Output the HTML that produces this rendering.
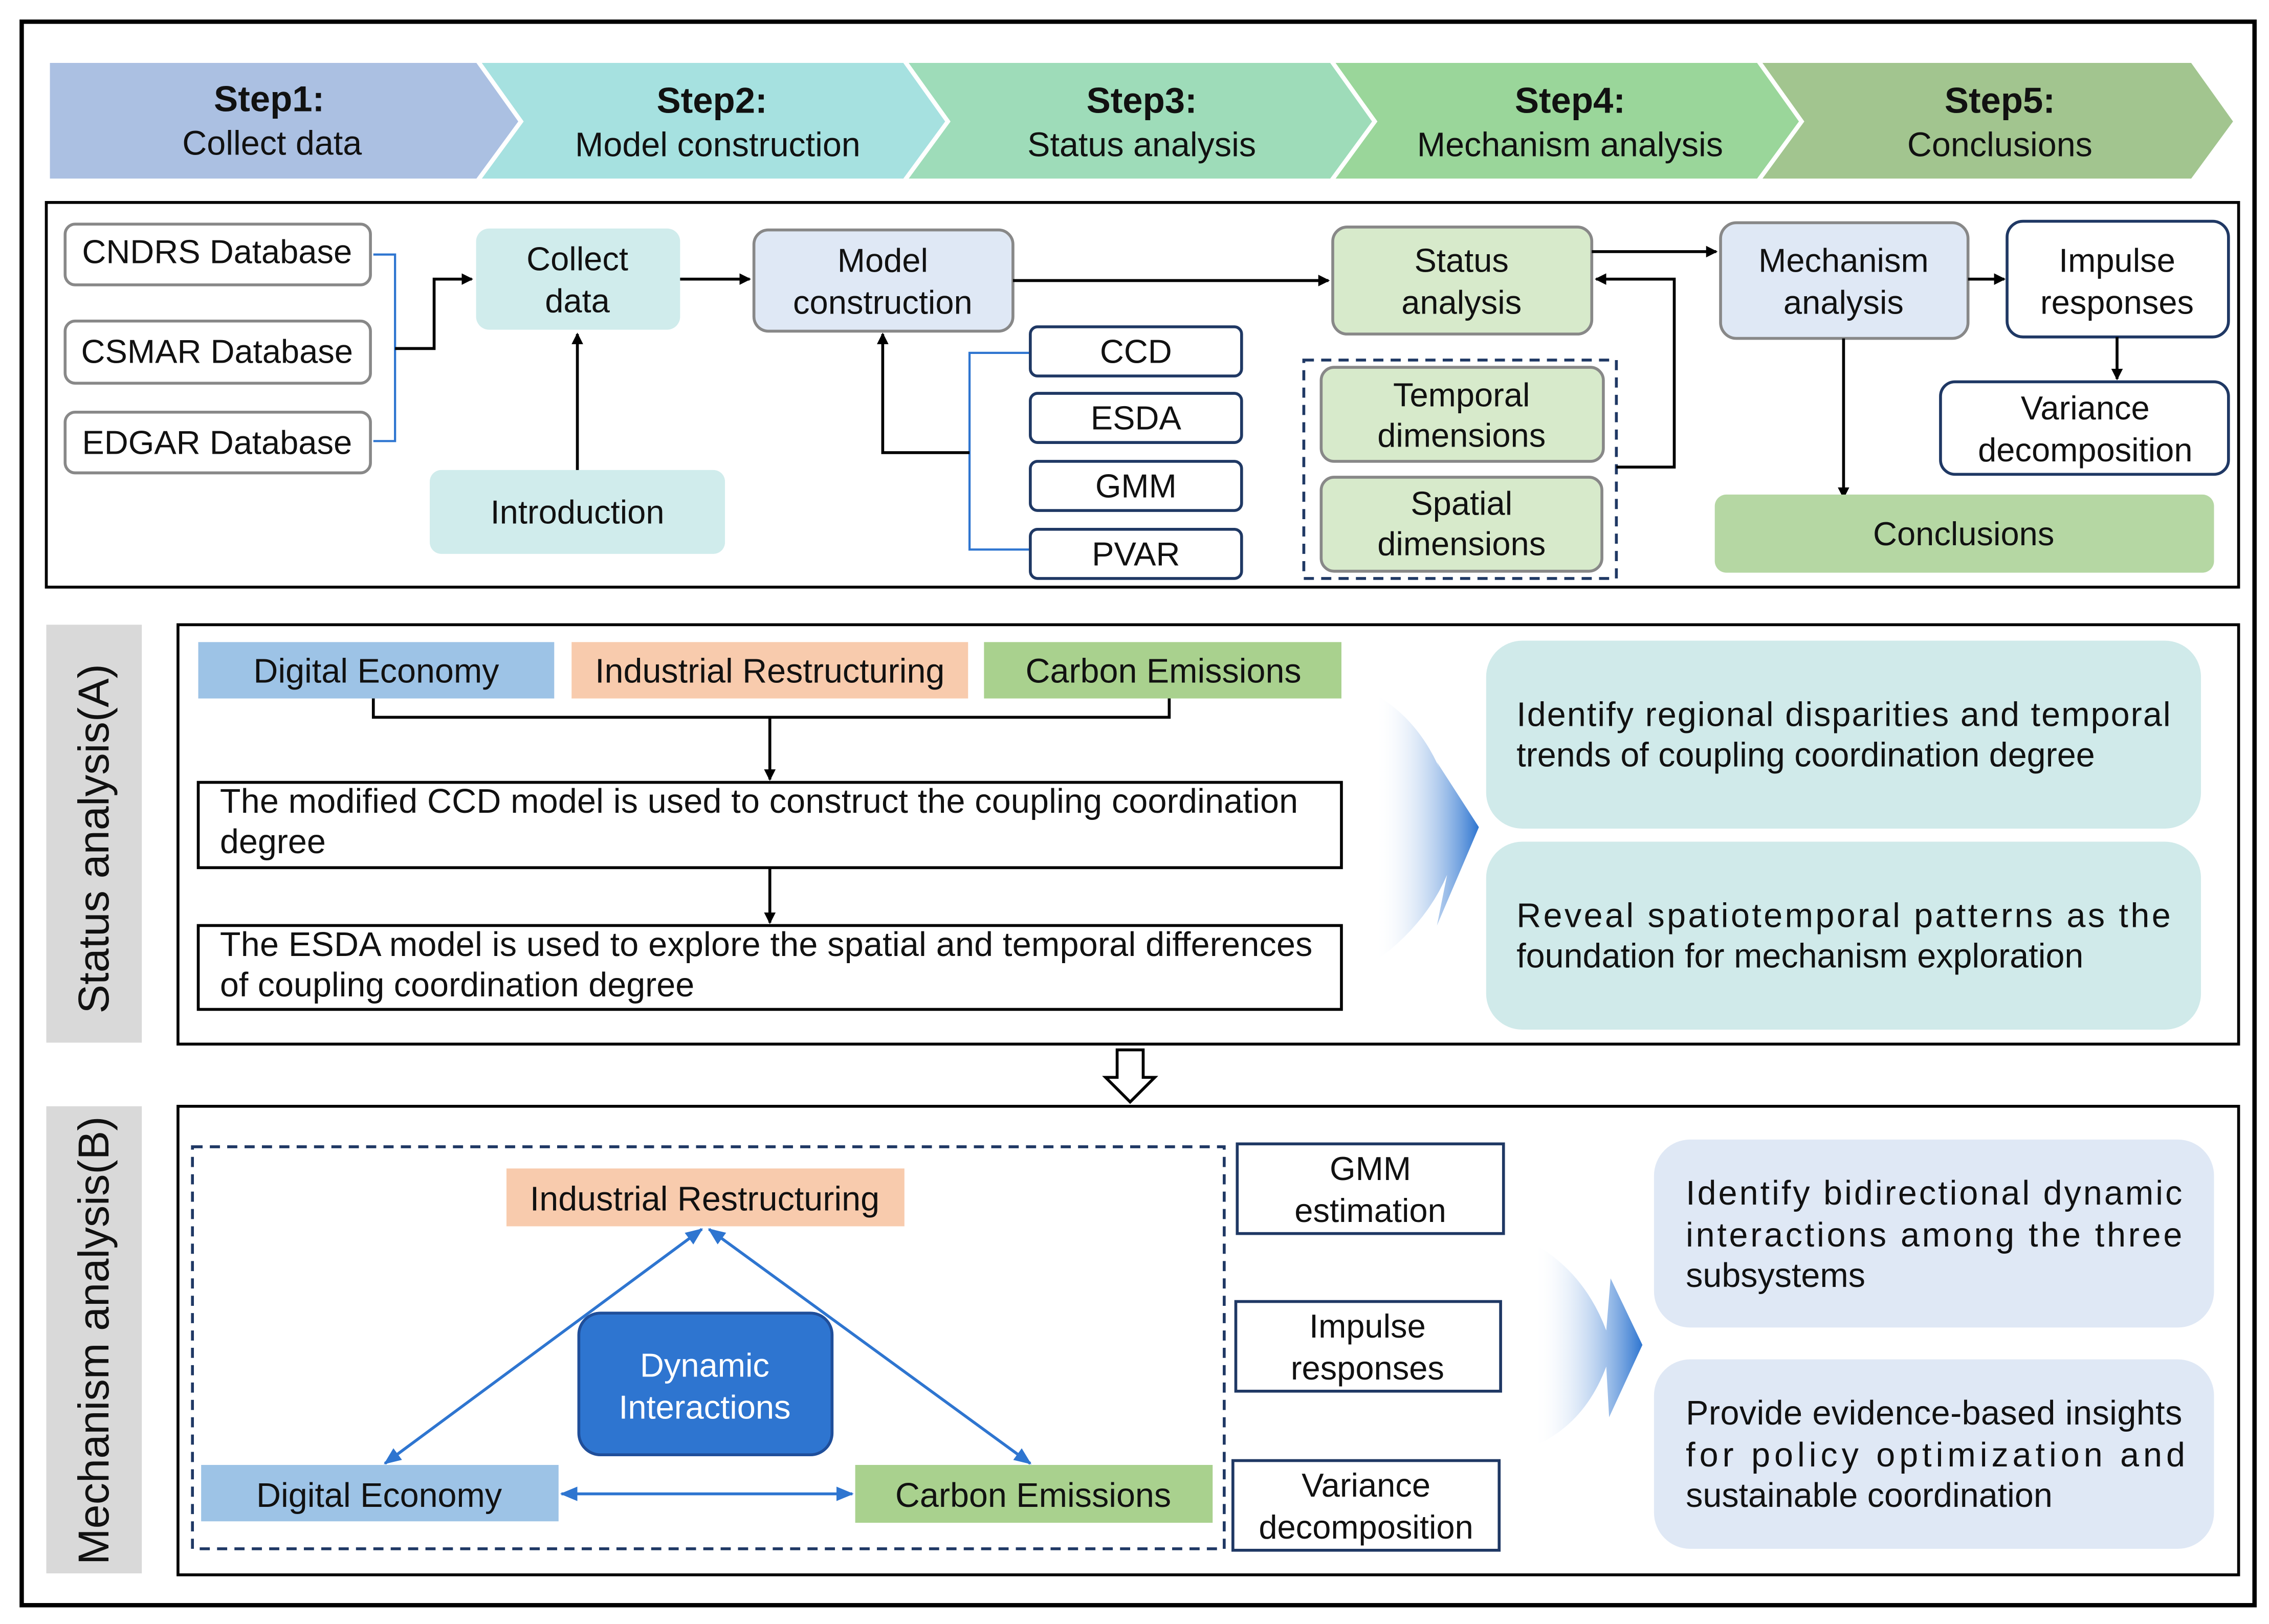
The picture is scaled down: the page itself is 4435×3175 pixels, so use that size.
<!DOCTYPE html>
<html><head><meta charset="utf-8"><style>
html,body{margin:0;padding:0;background:#fff;}
svg{display:block;}
text{font-family:"Liberation Sans",Arial,sans-serif;fill:#111;}
</style></head><body>
<svg width="4435" height="3175" viewBox="0 0 1568 1123" preserveAspectRatio="none" xmlns="http://www.w3.org/2000/svg">
<defs>
<marker id="ab" markerWidth="8" markerHeight="8" refX="7" refY="4" orient="auto" markerUnits="userSpaceOnUse"><path d="M0,0 L8,4 L0,8 z" fill="#000"/></marker>
<marker id="bl" markerWidth="12" markerHeight="10" refX="11" refY="5" orient="auto-start-reverse" markerUnits="userSpaceOnUse"><path d="M0,0 L12,5 L0,10 z" fill="#2e75d0"/></marker>
<linearGradient id="g1" x1="0" x2="1" y1="0" y2="0"><stop offset="0" stop-color="#fff" stop-opacity="0"/><stop offset="1" stop-color="#2e75d0"/></linearGradient>
</defs>
<rect x="0" y="0" width="1568" height="1123" fill="#fff"/>
<rect x="15" y="15" width="1543" height="1095" fill="none" stroke="#000" stroke-width="3"/>
<!-- chevrons -->
<g stroke="#fff" stroke-width="3" stroke-linejoin="miter">
<polygon points="1215,42 1515,42 1545,84 1515,125 1215,125 1245,84" fill="#a2c58f"/>
<polygon points="920,42 1215,42 1245,84 1215,125 920,125 950,84" fill="#9ad69a"/>
<polygon points="625,42 920,42 950,84 920,125 625,125 655,84" fill="#9edcb9"/>
<polygon points="330,42 625,42 655,84 625,125 330,125 360,84" fill="#a6e1e0"/>
<polygon points="33,42 330,42 360,84 330,125 33,125" fill="#abc0e2"/>
</g>
<g font-size="25" text-anchor="middle">
<text x="186" y="77" font-weight="bold">Step1:</text><text x="188" y="107" font-size="23.5">Collect data</text>
<text x="492" y="78" font-weight="bold">Step2:</text><text x="496" y="108" font-size="23.5">Model construction</text>
<text x="789" y="78" font-weight="bold">Step3:</text><text x="789" y="108" font-size="23.5">Status analysis</text>
<text x="1085" y="78" font-weight="bold">Step4:</text><text x="1085" y="108" font-size="23.5">Mechanism analysis</text>
<text x="1382" y="78" font-weight="bold">Step5:</text><text x="1382" y="108" font-size="23.5">Conclusions</text>
</g>
<!-- top flow box -->
<rect x="32" y="140" width="1515" height="266" fill="none" stroke="#000" stroke-width="2"/>
<g fill="#fff" stroke="#888" stroke-width="2">
<rect x="45" y="155" width="211" height="42" rx="7"/>
<rect x="45" y="222" width="211" height="43" rx="7"/>
<rect x="45" y="285" width="211" height="42" rx="7"/>
</g>
<g font-size="23" text-anchor="middle">
<text x="150" y="182">CNDRS Database</text>
<text x="150" y="251">CSMAR Database</text>
<text x="150" y="314">EDGAR Database</text>
</g>
<path d="M258,176 H273 V305 H258" fill="none" stroke="#2e75d0" stroke-width="1.5"/>
<path d="M273,241 H300 V193 H326" fill="none" stroke="#000" stroke-width="2" marker-end="url(#ab)"/>
<rect x="329" y="158" width="141" height="70" rx="9" fill="#d0ecec"/>
<g font-size="23" text-anchor="middle">
<text x="399" y="187">Collect</text><text x="399" y="216">data</text>
</g>
<path d="M470,193 H518" stroke="#000" stroke-width="2" marker-end="url(#ab)"/>
<rect x="521" y="159" width="179" height="70" rx="10" fill="#dfe8f5" stroke="#888" stroke-width="2"/>
<g font-size="23" text-anchor="middle">
<text x="610" y="188">Model</text><text x="610" y="217">construction</text>
</g>
<rect x="297" y="325" width="204" height="58" rx="8" fill="#d0ecec"/>
<text x="399" y="362" font-size="23" text-anchor="middle">Introduction</text>
<path d="M399,325 V231" stroke="#000" stroke-width="2" marker-end="url(#ab)"/>
<g fill="#fff" stroke="#1f3864" stroke-width="2">
<rect x="712" y="226" width="146" height="34" rx="5"/>
<rect x="712" y="272" width="146" height="34" rx="5"/>
<rect x="712" y="319" width="146" height="34" rx="5"/>
<rect x="712" y="366" width="146" height="34" rx="5"/>
</g>
<g font-size="23" text-anchor="middle">
<text x="785" y="251">CCD</text><text x="785" y="297">ESDA</text><text x="785" y="344">GMM</text><text x="785" y="391">PVAR</text>
</g>
<path d="M711,244 H670 V380 H711" fill="none" stroke="#2e75d0" stroke-width="1.5"/>
<path d="M670,313 H610 V231" fill="none" stroke="#000" stroke-width="2" marker-end="url(#ab)"/>
<path d="M700,194 H918" stroke="#000" stroke-width="2" marker-end="url(#ab)"/>
<rect x="921" y="157" width="179" height="74" rx="10" fill="#d7eacb" stroke="#888" stroke-width="2"/>
<g font-size="23" text-anchor="middle">
<text x="1010" y="188">Status</text><text x="1010" y="217">analysis</text>
</g>
<rect x="901" y="249" width="216" height="151" fill="none" stroke="#1f3864" stroke-width="2" stroke-dasharray="7,5"/>
<rect x="913" y="254" width="195" height="65" rx="9" fill="#d7eacb" stroke="#888" stroke-width="2"/>
<rect x="913" y="330" width="194" height="65" rx="9" fill="#d7eacb" stroke="#888" stroke-width="2"/>
<g font-size="23" text-anchor="middle">
<text x="1010" y="281">Temporal</text><text x="1010" y="309">dimensions</text>
<text x="1010" y="356">Spatial</text><text x="1010" y="384">dimensions</text>
</g>
<path d="M1117,323 H1157 V193 H1103" fill="none" stroke="#000" stroke-width="2" marker-end="url(#ab)"/>
<path d="M1100,174 H1186" stroke="#000" stroke-width="2" marker-end="url(#ab)"/>
<rect x="1189" y="154" width="171" height="80" rx="11" fill="#dfe8f5" stroke="#888" stroke-width="2"/>
<g font-size="23" text-anchor="middle">
<text x="1274" y="188">Mechanism</text><text x="1274" y="217">analysis</text>
</g>
<path d="M1360,193 H1385" stroke="#000" stroke-width="2" marker-end="url(#ab)"/>
<rect x="1387" y="153" width="153" height="80" rx="11" fill="#fff" stroke="#1f3864" stroke-width="2"/>
<g font-size="23" text-anchor="middle">
<text x="1463" y="188">Impulse</text><text x="1463" y="217">responses</text>
</g>
<path d="M1463,233 V262" stroke="#000" stroke-width="2" marker-end="url(#ab)"/>
<rect x="1341" y="264" width="199" height="64" rx="10" fill="#fff" stroke="#1f3864" stroke-width="2"/>
<g font-size="23" text-anchor="middle">
<text x="1441" y="290">Variance</text><text x="1441" y="319">decomposition</text>
</g>
<path d="M1274,234 V344" stroke="#000" stroke-width="2" marker-end="url(#ab)"/>
<rect x="1185" y="342" width="345" height="54" rx="8" fill="#b5d7a3"/>
<text x="1357" y="377" font-size="23" text-anchor="middle">Conclusions</text>
<!-- Section A -->
<rect x="32" y="432" width="66" height="289" fill="#d9d9d9"/>
<text transform="translate(75,580) rotate(-90)" font-size="30" text-anchor="middle">Status analysis(A)</text>
<rect x="123" y="432" width="1424" height="290" fill="none" stroke="#000" stroke-width="2"/>
<rect x="137" y="444" width="246" height="39" fill="#9dc3e6"/>
<rect x="395" y="444" width="274" height="39" fill="#f8cbad"/>
<rect x="680" y="444" width="247" height="39" fill="#a9d18e"/>
<g font-size="23.5" text-anchor="middle">
<text x="260" y="472">Digital Economy</text><text x="532" y="472">Industrial Restructuring</text><text x="804" y="472">Carbon Emissions</text>
</g>
<path d="M258,483 V496 H808 V483" fill="none" stroke="#000" stroke-width="2"/>
<path d="M532,496 V539" stroke="#000" stroke-width="2" marker-end="url(#ab)"/>
<rect x="137" y="541" width="790" height="59" fill="#fff" stroke="#000" stroke-width="2"/>
<text x="152" y="562" font-size="23.5" textLength="745">The modified CCD model is used to construct the coupling coordination</text>
<text x="152" y="590" font-size="23.5">degree</text>
<path d="M532,600 V638" stroke="#000" stroke-width="2" marker-end="url(#ab)"/>
<rect x="137" y="640" width="790" height="58" fill="#fff" stroke="#000" stroke-width="2"/>
<text x="152" y="661" font-size="23.5" textLength="755">The ESDA model is used to explore the spatial and temporal differences</text>
<text x="152" y="689" font-size="23.5">of coupling coordination degree</text>
<path d="M950,480 Q985,500 1000,545 L993,527 L1022,572 L993,640 L1000,605 Q985,640 950,665 Z" fill="url(#g1)"/>
<rect x="1027" y="443" width="494" height="130" rx="25" fill="#d0eaea"/>
<rect x="1027" y="582" width="494" height="130" rx="25" fill="#d0eaea"/>
<g font-size="23.5">
<text x="1048" y="502" textLength="452">Identify regional disparities and temporal</text>
<text x="1048" y="530">trends of coupling coordination degree</text>
<text x="1048" y="641" textLength="452">Reveal spatiotemporal patterns as the</text>
<text x="1048" y="669">foundation for mechanism exploration</text>
</g>
<!-- hollow arrow -->
<path d="M772,726 H790 V745 H798 L781,762 L764,745 H772 Z" fill="#fff" stroke="#000" stroke-width="2"/>
<!-- Section B -->
<rect x="32" y="765" width="66" height="323" fill="#d9d9d9"/>
<text transform="translate(75,927) rotate(-90)" font-size="30" text-anchor="middle">Mechanism analysis(B)</text>
<rect x="123" y="765" width="1424" height="324" fill="none" stroke="#000" stroke-width="2"/>
<rect x="133" y="793" width="713" height="278" fill="none" stroke="#1f3864" stroke-width="2" stroke-dasharray="7,5"/>
<rect x="350" y="808" width="275" height="40" fill="#f8cbad"/>
<text x="487" y="837" font-size="23.5" text-anchor="middle">Industrial Restructuring</text>
<rect x="400" y="908" width="175" height="98" rx="15" fill="#2e75d0" stroke="#1f4e9a" stroke-width="2"/>
<text x="487" y="952" font-size="23" text-anchor="middle" style="fill:#fff">Dynamic</text>
<text x="487" y="981" font-size="23" text-anchor="middle" style="fill:#fff">Interactions</text>
<rect x="139" y="1013" width="247" height="39" fill="#9dc3e6"/>
<rect x="591" y="1013" width="247" height="40" fill="#a9d18e"/>
<text x="262" y="1042" font-size="23.5" text-anchor="middle">Digital Economy</text>
<text x="714" y="1042" font-size="23.5" text-anchor="middle">Carbon Emissions</text>
<g stroke="#2e75d0" stroke-width="2" fill="none">
<path d="M266,1012 L485,850" marker-start="url(#bl)" marker-end="url(#bl)"/>
<path d="M490,850 L712,1012" marker-start="url(#bl)" marker-end="url(#bl)"/>
<path d="M388,1033 L589,1033" marker-start="url(#bl)" marker-end="url(#bl)"/>
</g>
<g fill="#fff" stroke="#1f3864" stroke-width="2">
<rect x="855" y="791" width="184" height="62"/>
<rect x="854" y="900" width="183" height="62"/>
<rect x="852" y="1010" width="184" height="62"/>
</g>
<g font-size="23" text-anchor="middle">
<text x="947" y="816">GMM</text><text x="947" y="845">estimation</text>
<text x="945" y="925">Impulse</text><text x="945" y="954">responses</text>
<text x="944" y="1035">Variance</text><text x="944" y="1064">decomposition</text>
</g>
<path d="M1060,860 Q1095,880 1110,920 L1113,884 L1135,930 L1112,980 L1110,945 Q1095,985 1060,1000 Z" fill="url(#g1)"/>
<rect x="1143" y="788" width="387" height="130" rx="25" fill="#dfe8f5"/>
<rect x="1143" y="940" width="387" height="131" rx="25" fill="#dfe8f5"/>
<g font-size="23.5">
<text x="1165" y="833" textLength="343">Identify bidirectional dynamic</text>
<text x="1165" y="862" textLength="343">interactions among the three</text>
<text x="1165" y="890">subsystems</text>
<text x="1165" y="985" textLength="343">Provide evidence-based insights</text>
<text x="1165" y="1014" textLength="345">for policy optimization and</text>
<text x="1165" y="1042">sustainable coordination</text>
</g>
</svg>
</body></html>
